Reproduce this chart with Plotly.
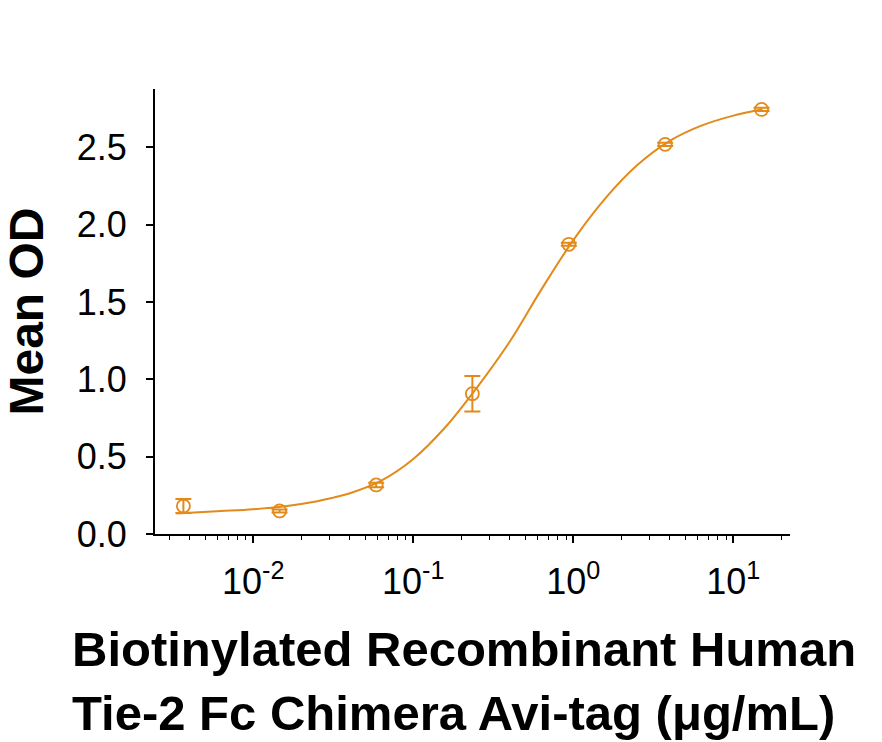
import plotly.graph_objects as go

# Data
conc = [0.00366, 0.0146, 0.0586, 0.234, 0.9375, 3.75, 15.0]
mean_od = [0.181, 0.149, 0.317, 0.907, 1.873, 2.519, 2.745]
err_od = [0.045, 0.010, 0.015, 0.115, 0.010, 0.010, 0.010]

# Fitted curve (log10 concentration, OD)
curve_logx = [-2.48, -2.2, -2.0, -1.8, -1.6, -1.5, -1.4, -1.2, -1.0, -0.8, -0.6,
              -0.4, -0.2, 0.0, 0.2, 0.4, 0.6, 0.8, 1.0, 1.176]
curve_od = [0.133, 0.148, 0.160, 0.180, 0.212, 0.235, 0.262, 0.345, 0.485, 0.690,
            0.950, 1.240, 1.580, 1.900, 2.170, 2.385, 2.540, 2.640, 2.705, 2.745]

x_tickvals = [0.01, 0.1, 1, 10]
x_ticktext = ["10<sup>-2</sup>", "10<sup>-1</sup>", "10<sup>0</sup>", "10<sup>1</sup>"]
y_tickvals = [0.0, 0.5, 1.0, 1.5, 2.0, 2.5]
x_title = "<b>Biotinylated Recombinant Human<br>Tie-2 Fc Chimera Avi-tag (μg/mL)</b>"
y_title = "<b>Mean OD</b>"

color = "#E38A1A"
font_family = "Liberation Sans, Arial, sans-serif"

curve_x = [10 ** v for v in curve_logx]

fig = go.Figure()
fig.add_trace(go.Scatter(
    x=curve_x, y=curve_od, mode="lines", line=dict(color=color, width=2, shape="spline"),
    hoverinfo="skip", showlegend=False))
fig.add_trace(go.Scatter(
    x=conc, y=mean_od, mode="markers",
    marker=dict(symbol="circle-open", size=13, color=color, line=dict(width=1.8, color=color)),
    error_y=dict(type="data", array=err_od, visible=True, color=color, thickness=2, width=8),
    showlegend=False))

fig.update_layout(
    width=882, height=742,
    margin=dict(l=155, r=92, t=89, b=208),
    paper_bgcolor="white", plot_bgcolor="white",
    font=dict(family=font_family, color="black"),
    xaxis=dict(
        type="log", range=[-2.614, 1.354],
        tickvals=x_tickvals, ticktext=x_ticktext,
        ticks="outside", ticklen=7, tickwidth=1.5, tickcolor="black",
        showline=True, linecolor="black", linewidth=2,
        showgrid=False, zeroline=False,
        tickfont=dict(size=36, family=font_family),
        ticklabelstandoff=8,
        minor=dict(ticks="outside", ticklen=4, tickwidth=1.2, tickcolor="black",
                   dtick="D1", showgrid=False),
    ),
    yaxis=dict(
        range=[0, 2.877], tickvals=y_tickvals, tickformat=".1f",
        ticks="outside", ticklen=7, tickwidth=1.5, tickcolor="black",
        showline=True, linecolor="black", linewidth=2,
        showgrid=False, zeroline=False,
        tickfont=dict(size=36, family=font_family),
        ticklabelstandoff=12,
        title=dict(text=y_title, font=dict(size=48, family=font_family), standoff=22),
    ),
    annotations=[dict(
        text=x_title, xref="paper", yref="paper",
        x=(70 - 155) / 635, y=(534 - 620) / 445, xanchor="left", yanchor="top",
        align="left", showarrow=False,
        font=dict(size=49, family=font_family, color="black"),
    )],
)

fig.write_html("out.html")
